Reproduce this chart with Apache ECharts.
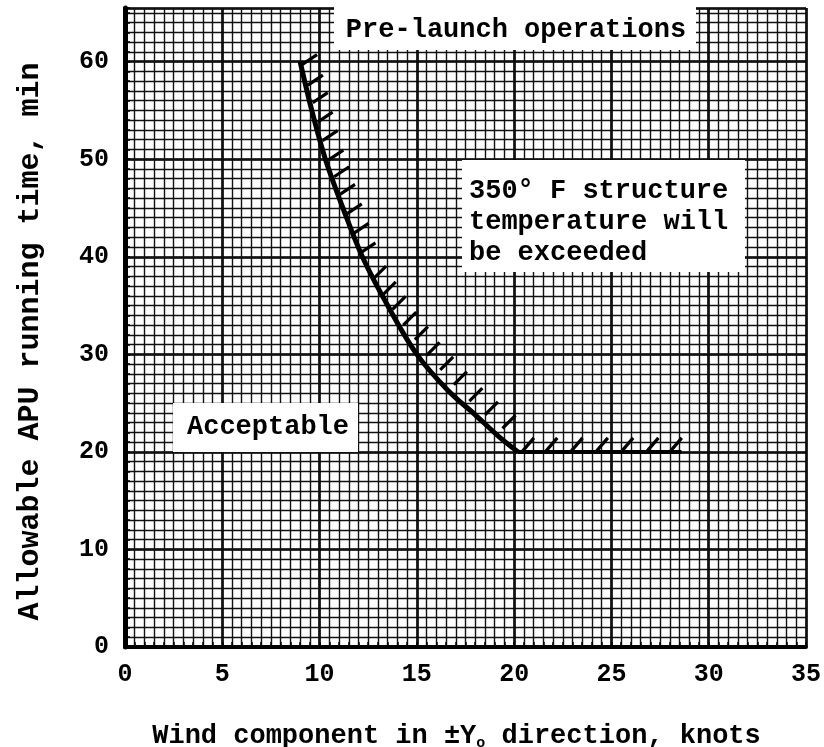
<!DOCTYPE html>
<html>
<head>
<meta charset="utf-8">
<script src="https://cdn.jsdelivr.net/npm/echarts@6/dist/echarts.min.js"></script>
<style>
html,body{margin:0;padding:0;background:#fff;}
#chart{width:824px;height:747px;}
</style>
</head>
<body>
<div id="chart"></div>
<script>
// ---- data ----
var curveX = [9.0, 9.6, 10.3, 11.2, 12.2, 13.5, 15.0, 16.6, 18.0, 19.2, 20.2];
var curveY = [60, 55, 50, 45, 40, 35, 30, 26.3, 23.8, 21.6, 20];
var flatX = [20.2, 28.6];
var flatY = [20, 20];
var hatchSteepX = [9.1, 9.4, 9.65, 9.9, 10.15, 10.45, 10.75, 11.05, 11.4, 11.75, 12.1];
var hatchSteepY = [59.7, 57.6, 55.8, 53.8, 51.9, 49.9, 48.2, 46.4, 44.4, 42.4, 40.4];
var hatchLowX = [12.75, 13.25, 13.75, 14.3, 14.9, 15.5, 16.2, 16.9, 17.7, 18.5, 19.4];
var hatchLowY = [37.7, 36.1, 34.6, 33.0, 31.5, 29.9, 28.4, 26.9, 25.2, 23.8, 22.4];
var hatchFlatX = [20.4, 21.6, 22.9, 24.2, 25.5, 26.8, 28.0];
var hatchFlatY = [20, 20, 20, 20, 20, 20, 20];
var xTicks = [0, 5, 10, 15, 20, 25, 30, 35];
var yTicks = [0, 10, 20, 30, 40, 50, 60];
var xTitle = 'Wind component in \u00b1Y{sub|o} direction, knots';
var yTitle = 'Allowable APU running time, min';
var noteTop = 'Pre-launch operations';
var noteRight = ['350\u00b0 F structure', 'temperature will', 'be exceeded'];
var noteLeft = 'Acceptable';

function zip(a, b) { return a.map(function (v, i) { return [v, b[i]]; }); }

var FONT = '"Liberation Mono", "DejaVu Sans Mono", monospace';

function hatchSeries(xs, ys, dx, dy) {
  return {
    type: 'custom',
    xAxisIndex: 0, yAxisIndex: 0,
    data: zip(xs, ys),
    z: 5,
    renderItem: function (params, api) {
      var p = api.coord([api.value(0), api.value(1)]);
      return {
        type: 'line',
        shape: { x1: p[0], y1: p[1], x2: p[0] + dx, y2: p[1] + dy },
        style: { stroke: '#000', lineWidth: 3.2 }
      };
    }
  };
}

var chart = echarts.init(document.getElementById('chart'), null, { renderer: 'canvas' });
var option = {
  backgroundColor: '#fff',
  animation: false,
  grid: { left: 125, right: 18, top: 8, bottom: 100, containLabel: false, outerBoundsMode: 'none' },
  xAxis: [
    {
      type: 'value', min: 0, max: 35, interval: 5,
      axisLine: { show: true, onZero: false, lineStyle: { color: '#000', width: 4 } },
      axisTick: { show: false },
      axisLabel: {
        margin: 15, color: '#000', fontFamily: FONT, fontWeight: 'bold', fontSize: 25,
        formatter: function (v) { return xTicks.indexOf(v) >= 0 ? String(v) : ''; }
      },
      splitLine: { show: true, lineStyle: { color: '#000', width: 2.6 } },
      name: xTitle, nameLocation: 'middle', nameGap: 74,
      nameTextStyle: {
        color: '#000', fontFamily: FONT, fontWeight: 'bold', fontSize: 27, lineHeight: 30, padding: [0, 18, 0, 0],
        rich: { sub: { fontFamily: FONT, fontWeight: 'bold', fontSize: 15, lineHeight: 30, verticalAlign: 'bottom', color: '#000' } }
      }
    },
    {
      type: 'value', min: 0, max: 35, interval: 0.5,
      axisLine: { show: false },
      axisTick: { show: true, length: 5, lineStyle: { color: '#000', width: 1.5 } },
      axisLabel: { show: false },
      splitLine: { show: true, lineStyle: { color: '#111', width: 1.4 } }
    }
  ],
  yAxis: [
    {
      type: 'value', min: 0, max: 65.5, interval: 10,
      axisLine: { show: true, onZero: false, lineStyle: { color: '#000', width: 5 } },
      axisTick: { show: false },
      axisLabel: {
        margin: 16, color: '#000', fontFamily: FONT, fontWeight: 'bold', fontSize: 25,
        showMaxLabel: false,
        formatter: function (v) { return yTicks.indexOf(v) >= 0 ? String(v) : ''; }
      },
      splitLine: { show: true, lineStyle: { color: '#000', width: 2.6 } },
      name: yTitle, nameLocation: 'middle', nameGap: 80, nameRotate: 90,
      nameTextStyle: { color: '#000', fontFamily: FONT, fontWeight: 'bold', fontSize: 30, padding: [0, 28, 0, 0] }
    },
    {
      type: 'value', min: 0, max: 65.5, interval: 1,
      axisLine: { show: false },
      axisTick: { show: true, length: 5, lineStyle: { color: '#000', width: 1.5 } },
      axisLabel: { show: false },
      splitLine: { show: true, lineStyle: { color: '#111', width: 1.4 } }
    }
  ],
  series: [
    {
      type: 'line', xAxisIndex: 0, yAxisIndex: 0,
      data: zip(curveX, curveY), smooth: 0.35, symbol: 'none', z: 6,
      lineStyle: { color: '#000', width: 5 }
    },
    {
      type: 'line', xAxisIndex: 0, yAxisIndex: 0,
      data: zip(flatX, flatY), symbol: 'none', z: 6,
      lineStyle: { color: '#000', width: 4 }
    },
    hatchSeries(hatchSteepX, hatchSteepY, 15, -10),
    hatchSeries(hatchLowX, hatchLowY, 13, -13),
    hatchSeries(hatchFlatX, hatchFlatY, 12, -14)
  ],
  graphic: [
    { type: 'rect', z: 100, shape: { x: 334, y: 0, width: 362, height: 50 }, style: { fill: '#fff' } },
    { type: 'text', z: 101, x: 516, y: 30, style: { text: noteTop, font: 'bold 27px ' + FONT, fill: '#000', textAlign: 'center', textVerticalAlign: 'middle' } },
    { type: 'rect', z: 100, shape: { x: 462, y: 160, width: 283, height: 112 }, style: { fill: '#fff' } },
    { type: 'text', z: 101, x: 469, y: 222, style: { text: noteRight.join('\n'), font: 'bold 27px ' + FONT, lineHeight: 31, fill: '#000', textAlign: 'left', textVerticalAlign: 'middle' } },
    { type: 'rect', z: 100, shape: { x: 173, y: 403, width: 185, height: 49 }, style: { fill: '#fff' } },
    { type: 'text', z: 101, x: 268, y: 427, style: { text: noteLeft, font: 'bold 27px ' + FONT, fill: '#000', textAlign: 'center', textVerticalAlign: 'middle' } }
  ]
};
chart.setOption(option);
</script>
</body>
</html>
